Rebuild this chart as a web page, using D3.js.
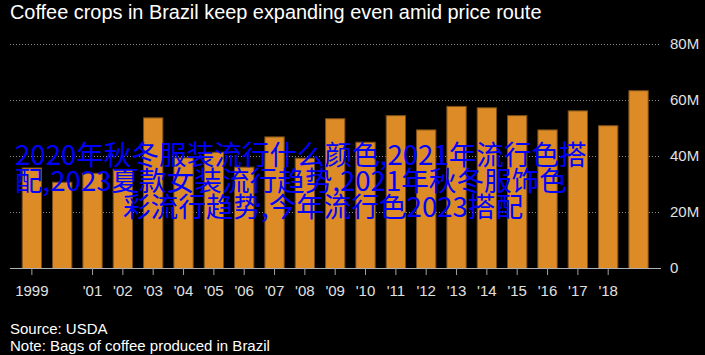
<!DOCTYPE html>
<html>
<head>
<meta charset="utf-8">
<script src="https://cdn.jsdelivr.net/npm/d3@7"></script>
<style>
  html, body { margin: 0; padding: 0; background: #000; }
  svg { display: block; }
</style>
</head>
<body>
<svg id="chart" width="705" height="355"></svg>
<script>
const years = [1999,2000,2001,2002,2003,2004,2005,2006,2007,2008,2009,2010,2011,2012,2013,2014,2015,2016,2017,2018,2019];
const production = [35.9,30.8,34.0,35.4,53.8,39.5,41.5,36.2,47.0,39.4,53.5,45.1,54.6,49.5,57.9,57.4,54.6,49.5,56.3,51.0,63.5];
const xTickLabels = {1999:"1999",2001:"'01",2002:"'02",2003:"'03",2004:"'04",2005:"'05",2006:"'06",2007:"'07",2008:"'08",2009:"'09",2010:"'10",2011:"'11",2012:"'12",2013:"'13",2014:"'14",2015:"'15",2016:"'16",2017:"'17",2018:"'18"};
const yTicks = [0,20,40,60,80];
const yTickLabels = ["0","20M","40M","60M","80M"];
const title = "Coffee crops in Brazil keep expanding even amid price route";
const notes = ["Source: USDA", "Note: Bags of coffee produced in Brazil"];
const overlayLines = ["2020年秋冬服装流行什么颜色,2021年流行色搭", "配,2023夏款女装流行趋势,2021年秋冬服饰色", "彩流行趋势,今年流行色2023搭配"];

const svg = d3.select("#chart");
const font = "'Liberation Sans', Arial, sans-serif";

const x = d3.scaleBand().domain(years).range([16.7, 653.7]).paddingInner(0.33).paddingOuter(0.165);
const y = d3.scaleLinear().domain([0, 80]).range([268, 44]);

// title
svg.append("text").attr("x", 10).attr("y", 19).attr("fill", "#fff")
  .attr("font-family", font).attr("font-size", 19.9).text(title);

// gridlines
svg.append("g").selectAll("line").data(yTicks.filter(d => d > 0)).join("line")
  .attr("x1", 10).attr("x2", 661).attr("y1", d => y(d) + 0.5).attr("y2", d => y(d) + 0.5)
  .attr("stroke", "#8a8a8a").attr("stroke-width", 1).attr("stroke-dasharray", "1,2");

// y labels
svg.append("g").selectAll("text").data(yTicks).join("text")
  .attr("x", 670).attr("y", d => y(d)).attr("dy", "0.36em")
  .attr("fill", "#e0e0e0").attr("font-family", font).attr("font-size", 15)
  .text((d, i) => yTickLabels[i]);

// bars
svg.append("g").selectAll("rect").data(years).join("rect")
  .attr("x", d => x(d) + 0.5)
  .attr("y", (d, i) => y(production[i]) + 0.5)
  .attr("width", x.bandwidth() - 1)
  .attr("height", (d, i) => y(0) - y(production[i]))
  .attr("fill", "#dc8b27").attr("stroke", "#7a4e16").attr("stroke-width", 1);

// x axis line
svg.append("line").attr("x1", 10).attr("x2", 661).attr("y1", 268.5).attr("y2", 268.5)
  .attr("stroke", "#b0b0b0").attr("stroke-width", 1.2);

// x ticks and labels
const labeled = years.filter(d => xTickLabels[d]);
svg.append("g").selectAll("line").data(labeled).join("line")
  .attr("x1", d => x(d) + x.bandwidth() / 2).attr("x2", d => x(d) + x.bandwidth() / 2)
  .attr("y1", 268).attr("y2", 275).attr("stroke", "#a0a0a0").attr("stroke-width", 1);
svg.append("g").selectAll("text").data(labeled).join("text")
  .attr("x", d => x(d) + x.bandwidth() / 2).attr("y", 296)
  .attr("text-anchor", "middle").attr("fill", "#e0e0e0")
  .attr("font-family", font).attr("font-size", 15)
  .text(d => xTickLabels[d]);

// notes
svg.append("g").selectAll("text").data(notes).join("text")
  .attr("x", 10).attr("y", (d, i) => 334 + i * 17)
  .attr("fill", "#fff").attr("font-family", font).attr("font-size", 15)
  .text(d => d);

// overlay text
const overlayX = [15, 15, 123];
const overlayY = [165, 191, 217];
svg.append("g").selectAll("text").data(overlayLines).join("text")
  .attr("x", (d, i) => overlayX[i]).attr("y", (d, i) => overlayY[i])
  .attr("fill", "#0000ff").attr("font-family", "'Noto Sans CJK SC', sans-serif")
  .attr("font-size", 27.6).text(d => d);
</script>
</body>
</html>
